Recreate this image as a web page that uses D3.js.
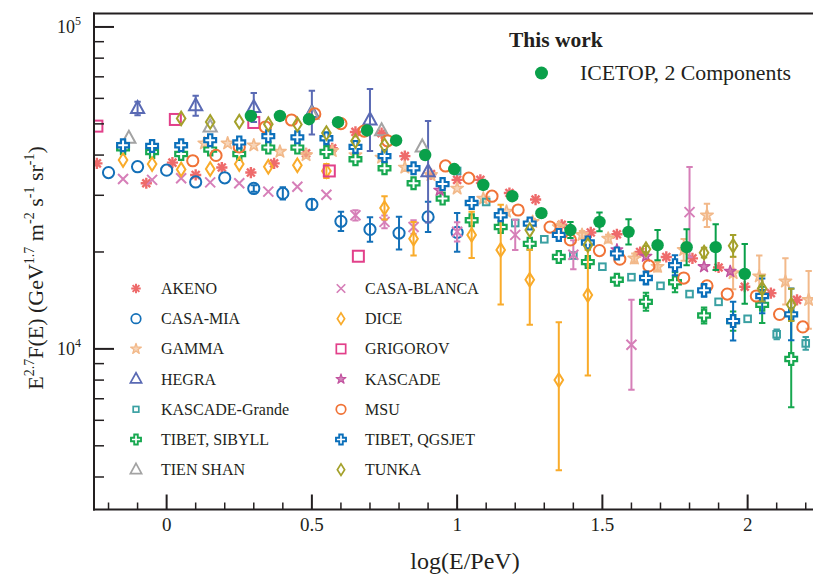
<!DOCTYPE html>
<html><head><meta charset="utf-8">
<script src="https://cdn.jsdelivr.net/npm/d3@7"></script>
<style>
body{margin:0;background:#fff}
svg{display:block}
text{font-family:"Liberation Serif","Times New Roman",serif;fill:#231f20}
</style>
</head><body><svg id="c" width="814" height="574"></svg>
<script>
// ---------------- data (flux in units of 1e3 GeV^1.7 m^-2 s^-1 sr^-1) ----------------
const akenoX = [-0.24,-0.07,0.02,0.10,0.19,0.29,0.37,0.48,0.57,0.65,0.74,0.82,0.91,1.00,1.08,1.18,1.27,1.36,1.46,1.55,1.63,1.72,1.81,1.90,1.99,2.08,2.17];
const akenoY = [37.7,32.7,37.9,34.7,36.6,35.3,37.7,40.5,42.0,47.2,46.8,39.7,34.9,33.5,33.5,30.5,29.1,24.3,23.0,22.7,20.0,19.3,19.1,17.9,15.6,14.9,14.2];

const casaMiaX = [-0.2,-0.1,0.0,0.1,0.2,0.3,0.4,0.5,0.6,0.7,0.8,0.9,1.0];
const casaMiaY = [35.3,36.8,35.9,33.0,34.0,31.5,30.4,28.1,24.9,23.5,22.9,25.7,23.0];
const casaMiaErr = [0,0,0,0,0,0.01,0.019,0.016,0.030,0.038,0.051,0.047,0.060];

const gammaX = [0.13,0.21,0.30,0.39,0.48,0.57,0.65,0.74,0.82,0.91,1.00,1.09,1.17,1.26,1.35,1.43,1.52,1.61,1.69,1.78,1.86,1.95,2.04,2.13,2.21];
const gammaY = [43.5,43.5,42.9,41.0,40.0,41.2,40.0,39.3,36.6,34.7,31.5,29.3,26.7,24.8,23.9,22.6,22.0,19.1,18.0,20.3,26.0,17.2,16.8,16.2,14.2];
const gammaErr = [0,0,0,0,0,0,0,0,0,0,0,0,0,0.01,0.01,0.012,0.012,0.015,0.015,0.034,0.036,0.05,0.065,0.072,0.09];

const hegraX = [-0.1,0.1,0.3,0.5,0.7,0.9];
const hegraY = [55.8,56.9,56.2,54.2,51.4,35.5];
const hegraErr = [0.021,0.031,0.045,0.068,0.096,0.158];

const kgX = [1.0,1.1,1.2,1.3,1.4,1.5,1.6,1.7,1.8,1.9,2.0,2.1,2.2];
const kgY = [35.7,28.6,24.6,21.9,19.5,18.0,16.7,15.7,14.8,14.0,12.4,11.1,10.4];
const kgErr = [0,0,0,0,0,0,0,0,0,0,0,0.015,0.02];

const sibyllX = [-0.15,-0.05,0.05,0.15,0.25,0.35,0.45,0.55,0.65,0.75,0.85,0.95,1.05,1.15,1.25,1.35,1.45,1.55,1.65,1.75,1.85,1.95,2.05,2.15];
const sibyllY = [42.0,40.9,40.3,41.6,40.3,42.2,42.2,40.9,38.8,36.4,32.7,29.3,25.1,23.9,21.2,19.3,18.6,16.4,14.0,16.1,12.7,12.2,13.7,9.3];
const sibyllErr = [0,0,0,0,0,0,0,0,0,0,0,0,0,0,0,0,0.01,0.01,0.028,0.031,0.025,0.03,0.056,0.15];

const tienShanX = [-0.13,0.15,0.50,0.74,0.88];
const tienShanY = [45.1,48.9,53.6,47.6,42.4];

const casaBlancaX = [-0.15,-0.05,0.05,0.15,0.25,0.35,0.45,0.55,0.65,0.75,0.85,1.0,1.2,1.4,1.6,1.8];
const casaBlancaY = [33.7,33.5,33.9,32.9,32.7,30.8,31.9,30.1,26.0,24.8,23.9,23.1,22.6,19.6,10.3,26.6];
const casaBlancaErr = [0,0,0,0,0,0,0,0,0.016,0.02,0.021,0.03,0.047,0.045,0.14,0.14];

const diceX = [-0.15,-0.05,0.05,0.15,0.25,0.35,0.45,0.55,0.75,0.85,1.05,1.15,1.25,1.35,1.45];
const diceY = [38.6,37.5,36.1,36.2,37.5,36.8,37.2,35.7,27.4,22.0,22.6,20.3,16.4,8.0,14.7];
const diceErrUp = [0,0,0,0,0,0,0,0.022,0.036,0.052,0.072,0.14,0.093,0.18,0.14];
const diceErrDn = [0,0,0,0,0,0,0,0.022,0.036,0.052,0.072,0.17,0.14,0.28,0.25];

const grigorovX = [-0.24,0.03,0.30,0.56,0.66];
const grigorovY = [49.2,51.6,50.5,35.7,19.4];

const kascadeX = [0.94,1.55,1.65,1.85,1.94];
const kascadeY = [31.1,20.3,19.4,18.0,17.4];

const msuX = [0.09,0.17,0.25,0.34,0.43,0.51,0.60,0.68,0.76,0.96,1.04,1.12,1.21,1.32,1.39,1.49,1.56,1.66,1.78,1.86,1.93,2.03,2.11,2.19];
const msuY = [38.4,39.9,42.4,48.9,51.4,53.7,50.1,47.5,44.3,37.0,33.9,29.8,27.0,23.9,21.8,20.2,19.0,18.1,16.6,15.7,14.8,14.6,12.8,11.7];

const qgsjetX = [-0.15,-0.05,0.05,0.15,0.25,0.35,0.45,0.55,0.65,0.75,0.85,0.95,1.05,1.15,1.25,1.35,1.45,1.55,1.65,1.75,1.85,1.95,2.05,2.15];
const qgsjetY = [42.9,42.7,42.9,44.5,43.8,45.8,45.4,45.1,42.4,39.7,36.4,32.5,28.4,26.0,24.5,22.6,21.4,19.8,16.6,18.2,15.2,12.2,14.6,12.8];
const qgsjetErr = [0,0,0,0,0,0,0,0,0,0,0,0,0,0,0,0,0.01,0.01,0.02,0.031,0.02,0.06,0.054,0.08];

const tunkaX = [0.05,0.15,0.25,0.35,0.45,0.55,0.65,0.75,1.25,1.45,1.65,1.85,1.95,2.05,2.15];
const tunkaY = [52.0,50.7,50.8,49.9,49.8,46.8,44.2,42.9,23.4,21.0,20.4,19.9,20.9,15.4,13.7];
const tunkaErr = [0,0,0,0,0,0,0,0,0,0,0.01,0.015,0.034,0.04,0.05];

const icetopX = [0.29,0.39,0.49,0.59,0.69,0.79,0.89,0.99,1.09,1.19,1.29,1.39,1.49,1.59,1.69,1.79,1.89,1.99];
const icetopY = [52.9,52.9,51.7,50.6,47.7,44.4,40.0,36.2,32.3,29.8,26.4,23.4,24.8,23.1,21.0,20.7,20.7,17.1];
const icetopErr = [0,0,0,0,0,0,0,0,0,0,0.012,0.025,0.029,0.039,0.047,0.056,0.071,0.093];

const xMajorTicks = [0,0.5,1,1.5,2];
const xTickLabels = ["0","0.5","1","1.5","2"];
const yMajorTicks = [1e4,1e5];
const yTickExp = ["4","5"];

(function(){
const series = [
  {name:"AKENO", x:akenoX, y:akenoY, shape:"asterisk", color:"#ee6b6b"},
  {name:"CASA-MIA", x:casaMiaX, y:casaMiaY, err:casaMiaErr, shape:"circle", color:"#1470b8"},
  {name:"GAMMA", x:gammaX, y:gammaY, err:gammaErr, shape:"star", color:"#f2b98a"},
  {name:"HEGRA", x:hegraX, y:hegraY, err:hegraErr, shape:"triangle", color:"#5a6ab4"},
  {name:"KASCADE-Grande", x:kgX, y:kgY, err:kgErr, shape:"smallsq", color:"#3aa0a2"},
  {name:"TIBET, SIBYLL", x:sibyllX, y:sibyllY, err:sibyllErr, shape:"cross", color:"#17a850"},
  {name:"TIEN SHAN", x:tienShanX, y:tienShanY, shape:"triangle", color:"#a3a3a3"},
  {name:"CASA-BLANCA", x:casaBlancaX, y:casaBlancaY, err:casaBlancaErr, shape:"x", color:"#d67fb8"},
  {name:"DICE", x:diceX, y:diceY, errUp:diceErrUp, errDn:diceErrDn, shape:"diamond", color:"#f9ab2a"},
  {name:"GRIGOROV", x:grigorovX, y:grigorovY, shape:"square", color:"#e2408a"},
  {name:"KASCADE", x:kascadeX, y:kascadeY, shape:"kstar", color:"#c2539f"},
  {name:"MSU", x:msuX, y:msuY, shape:"circle", color:"#f07337"},
  {name:"TIBET, QGSJET", x:qgsjetX, y:qgsjetY, err:qgsjetErr, shape:"cross", color:"#0b6fba"},
  {name:"TUNKA", x:tunkaX, y:tunkaY, err:tunkaErr, shape:"diamond", color:"#a4a12b"}
];
const icetop = {name:"ICETOP, 2 Components", x:icetopX, y:icetopY, err:icetopErr, shape:"dot", color:"#0aa04a"};

const pL = 94, pR = 813, pT = 13.5, pB = 509.5;
const x = d3.scaleLinear().domain([-0.25, 2.225]).range([pL, pR]);
const y = d3.scaleLog().domain([Math.pow(10,3.5011), Math.pow(10,5.0418)]).range([pB, pT]);

const svg = d3.select("#c");
const ink = "#231f20";

svg.append("defs").append("clipPath").attr("id","clip")
  .append("rect").attr("x",pL).attr("y",pT).attr("width",pR-pL).attr("height",pB-pT);

function drawMarker(g, shape, color, cx, cy, scale) {
  const s = scale || 1;
  const m = g.append("g").attr("transform",`translate(${cx},${cy}) scale(${s})`);
  if (shape === "asterisk") {
    [0,45,90,135].forEach(a => {
      const r = 5.6, t = a*Math.PI/180;
      m.append("line").attr("x1",-r*Math.cos(t)).attr("y1",-r*Math.sin(t))
        .attr("x2",r*Math.cos(t)).attr("y2",r*Math.sin(t))
        .attr("stroke",color).attr("stroke-width",2.4);
    });
  } else if (shape === "circle") {
    m.append("circle").attr("r",5.6).attr("fill","none").attr("stroke",color).attr("stroke-width",2);
  } else if (shape === "star") {
    m.append("path").attr("d",d3.symbol().type(d3.symbolStar).size(48)())
      .attr("fill",color).attr("fill-opacity",0.6).attr("stroke",color).attr("stroke-width",1.6).attr("stroke-linejoin","round");
  } else if (shape === "kstar") {
    m.append("path").attr("d",d3.symbol().type(d3.symbolStar).size(42)())
      .attr("fill",color).attr("fill-opacity",0.7).attr("stroke",color).attr("stroke-width",1.4).attr("stroke-linejoin","round");
  } else if (shape === "triangle") {
    m.append("path").attr("d","M0,-7.5L6.6,4.5L-6.6,4.5Z").attr("fill","none").attr("stroke",color).attr("stroke-width",2);
  } else if (shape === "smallsq") {
    m.append("rect").attr("x",-3.3).attr("y",-3.3).attr("width",6.6).attr("height",6.6)
      .attr("fill","none").attr("stroke",color).attr("stroke-width",2);
  } else if (shape === "square") {
    m.append("rect").attr("x",-5.5).attr("y",-5.5).attr("width",11).attr("height",11)
      .attr("fill","none").attr("stroke",color).attr("stroke-width",2);
  } else if (shape === "cross") {
    const a = 2.1, L = 5.9;
    const d = `M${-a},${-L}H${a}V${-a}H${L}V${a}H${a}V${L}H${-a}V${a}H${-L}V${-a}H${-a}Z`;
    m.append("path").attr("d",d).attr("fill","#fff").attr("stroke",color).attr("stroke-width",2.2).attr("stroke-linejoin","miter");
  } else if (shape === "x") {
    const r = 5;
    m.append("path").attr("d",`M${-r},${-r}L${r},${r}M${-r},${r}L${r},${-r}`).attr("stroke",color).attr("stroke-width",2);
  } else if (shape === "diamond") {
    m.append("path").attr("d","M0,-6.8L4.3,0L0,6.8L-4.3,0Z").attr("fill","none").attr("stroke",color).attr("stroke-width",2);
  } else if (shape === "dot") {
    m.append("circle").attr("r",6.2).attr("fill",color);
  }
}

function drawSeries(s) {
  const g = svg.append("g").attr("clip-path","url(#clip)");
  s.x.forEach((xv,i) => {
    const v = s.y[i]*1000;
    const cx = x(xv), cy = y(v);
    let up = 0, dn = 0;
    if (s.err) { up = dn = s.err[i]; }
    if (s.errUp) { up = s.errUp[i]; dn = s.errDn[i]; }
    if (up > 0 || dn > 0) {
      const yHi = y(v*Math.pow(10,up)), yLo = y(v*Math.pow(10,-dn));
      g.append("line").attr("x1",cx).attr("x2",cx).attr("y1",yHi).attr("y2",yLo)
        .attr("stroke",s.color).attr("stroke-width",2);
      [yHi,yLo].forEach(yy => g.append("line").attr("x1",cx-3.2).attr("x2",cx+3.2).attr("y1",yy).attr("y2",yy)
        .attr("stroke",s.color).attr("stroke-width",2));
    }
    drawMarker(g, s.shape, s.color, cx, cy);
  });
}

series.forEach(drawSeries);
drawSeries(icetop);

const axG = svg.append("g");
axG.append("line").attr("x1",pL).attr("x2",pL).attr("y1",pT-1).attr("y2",pB+1).attr("stroke",ink).attr("stroke-width",2);
axG.append("line").attr("x1",pL-1).attr("x2",pR).attr("y1",pB).attr("y2",pB).attr("stroke",ink).attr("stroke-width",2);
axG.append("line").attr("x1",pL-1).attr("x2",pR).attr("y1",pT).attr("y2",pT).attr("stroke",ink).attr("stroke-width",2);

const xMinor = d3.range(-2,23).map(k => k/10);
xMinor.forEach(v => {
  const major = xMajorTicks.some(t => Math.abs(t-v)<1e-9);
  axG.append("line").attr("x1",x(v)).attr("x2",x(v)).attr("y1",pB).attr("y2",pB-(major?15:7))
    .attr("stroke",ink).attr("stroke-width",major?2:1.5);
});
xMajorTicks.forEach((v,i) => {
  axG.append("text").attr("x",x(v)).attr("y",530.5).attr("text-anchor","middle").attr("font-size",19).text(xTickLabels[i]);
});

const yMinor = [4e3,5e3,6e3,7e3,8e3,9e3,2e4,3e4,4e4,5e4,6e4,7e4,8e4,9e4];
yMinor.forEach(v => {
  axG.append("line").attr("x1",pL).attr("x2",pL+10).attr("y1",y(v)).attr("y2",y(v)).attr("stroke",ink).attr("stroke-width",1.5);
});
yMajorTicks.forEach((v,i) => {
  axG.append("line").attr("x1",pL).attr("x2",pL+20).attr("y1",y(v)).attr("y2",y(v)).attr("stroke",ink).attr("stroke-width",2);
  const t = axG.append("text").attr("x",81).attr("y",y(v)+6).attr("text-anchor","end").attr("font-size",18);
  t.append("tspan").text("10");
  t.append("tspan").attr("font-size",12).attr("dy",-8).text(yTickExp[i]);
});

svg.append("text").attr("x",465).attr("y",569).attr("text-anchor","middle").attr("font-size",24).text("log(E/PeV)");

const yl = svg.append("text").attr("transform","translate(43,268) rotate(-90)").attr("text-anchor","middle").attr("font-size",22);
yl.append("tspan").text("E");
yl.append("tspan").attr("font-size",14).attr("dy",-9).text("2.7");
yl.append("tspan").attr("dy",9).text("F(E) (GeV");
yl.append("tspan").attr("font-size",14).attr("dy",-9).text("1.7");
yl.append("tspan").attr("dy",9).text(" m");
yl.append("tspan").attr("font-size",14).attr("dy",-9).text("-2");
yl.append("tspan").attr("dy",9).text(" s");
yl.append("tspan").attr("font-size",14).attr("dy",-9).text("-1");
yl.append("tspan").attr("dy",9).text(" sr");
yl.append("tspan").attr("font-size",14).attr("dy",-9).text("-1");
yl.append("tspan").attr("dy",9).text(")");

const legG = svg.append("g");
series.forEach((s,i) => {
  const col = i < 7 ? 0 : 1;
  const row = i % 7;
  const sx = col === 0 ? 136 : 341;
  const tx = col === 0 ? 161 : 365;
  const ly = 288.5 + row*30.2;
  drawMarker(legG, s.shape, s.color, sx, ly, 0.85);
  legG.append("text").attr("x",tx).attr("y",ly+5.5).attr("font-size",16).text(s.name);
});

svg.append("text").attr("x",509).attr("y",47).attr("font-size",21.5).attr("font-weight","bold").text("This work");
drawMarker(svg, "dot", icetop.color, 541.5, 73, 1.05);
svg.append("text").attr("x",580).attr("y",80).attr("font-size",21.8).text(icetop.name);
})();
</script></body></html>
